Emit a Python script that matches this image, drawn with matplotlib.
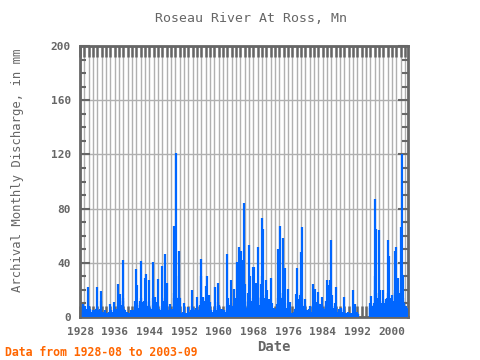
import numpy as np
import matplotlib
matplotlib.use("Agg")
import matplotlib.pyplot as plt
from matplotlib.ticker import MultipleLocator, FixedLocator

nan = np.nan
title = "Roseau River At Ross, Mn"
ylabel = "Archival Monthly Discharge, in mm"
xlabel = "Date"
footer = "Data from 1928-08 to 2003-09"
start_year, start_month = 1928, 8

# monthly discharge (mm), one row per year
q1928 = [5, 9.6, 4, 3, 2]  # Aug-Dec
q1929_1939 = [
    [2, 2, 3, 8, 6, 5, 4, 3, 3, 4, 6, 22],
    [8, 3, 4, 6, 5, 4, 3, 3, 2, 3, 4, 5],
    [3, 2, 2, 4, 5, 3, 2, 2, 3, 6, 22, 7],
    [3, 2, 3, 5, 4, 3, 4, 3, 6, 19, 12, 4],
    [2, 2, 3, 4, 3, 2, 2, 2, 2, 3, 5, 3],
    [2, 1, 2, 3, 3, 2, 2, 2, 3, 4, 9.6, 4],
    [2, 2, 3, 5, 4, 3, 3, 2, 3, 5, 11, 4],
    [3, 2, 3, 5, 6, 4, 3, 2, 4, 8, 24, 9],
    [4, 6, 17, 8, 6, 5, 4, 3, 5, 9, 14, 42],
    [12, 5, 4, 6, 5, 4, 3, 3, 2, 3, 4, 3],
    [3, 2, 2, 3, 2, 2, 2, 2, 2, 3, 5.5, 3],
]
q1940_1949 = [
    [2, 2, 3, 5, 4, 3, 3, 4, 6, 12, 35.5, 10],
    [6, 9, 23.6, 10, 7, 5, 6, 4, 5, 7, 9, 12],
    [41, 14, 8, 7, 11, 6, 5, 6, 7, 9, 12, 29],
    [10, 12, 32, 11, 7, 6, 5, 4, 6, 8, 12, 27.5],
    [9, 6, 5, 7, 6, 5, 4, 5, 6, 9, 14, 40.6],
    [12, 6, 5, 7, 8, 15, 7, 5, 6, 8, 11, 28],
    [9, 5, 4, 6, 5, 4, 3, 3, 4, 5, 7, 8],
    [37.6, 12, 6, 5, 6, 7, 9, 46.5, 14, 8, 7, 9],
    [25, 8, 5, 4, 5, 4, 3, 3, 4, 9.6, 6, 4],
    [3, 3, 4, 6, 5, 5, 6, 14, 67, 18, 8, 6],
]
q1950_1959 = [
    [20, 121, 30, 9, 7, 14, 8, 6, 7, 9, 15, 49],
    [14, 6, 4, 3, 3, 3, 2, 2, 4, 2, 3, 2],
    [10, 3, 2, 3, 3, 2, 2, 2, 2, 3, 3, 2],
    [7.3, 3, 2, 3, 4, 3, 3, 4, 5, 6, 8, 20],
    [7, 4, 3, 4, 5, 4, 3, 3, 4, 6, 7, 5],
    [15, 6, 4, 5, 5, 4, 4, 5, 6, 9, 12, 30.5],
    [42.5, 12, 7, 6, 8, 15, 7, 5, 6, 7, 9, 12],
    [23, 10, 14, 30, 9, 6, 5, 5, 7, 16, 8, 6],
    [5, 11, 5, 4, 4, 3, 3, 3, 3, 4, 5, 4],
    [4, 7, 22, 8, 5, 4, 4, 3, 5, 8, 11, 25],
]
q1960_1969 = [
    [9, 5, 4, 6, 5, 4, 4, 3, 4, 5, 6, 5],
    [4, 3, 5, 3, 3, 2, 2, 2, 3, 4, 5, 8],
    [46.5, 14, 6, 5, 8, 6, 5, 5, 9, 27.5, 10, 7],
    [5, 4, 4, 6, 8, 9, 21, 8, 6, 5, 6, 8],
    [9, 14, 40.6, 12, 8, 7, 8, 14, 51.7, 16, 8, 7],
    [12, 49, 16, 10, 14, 42, 12, 8, 9, 12, 20, 84],
    [24, 8, 11, 7, 6, 5, 6, 7, 9, 12, 18, 53],
    [16, 9, 12, 30, 10, 7, 6, 5, 7, 12, 37, 14],
    [8, 12, 37, 10, 7, 6, 8, 10, 25, 9, 7, 6],
    [14, 52, 15, 9, 7, 6, 5, 6, 8, 14, 24, 73],
]
q1970_1979 = [
    [30, 18, 16, 65, 14, 5, 7, 8, 9, 12, 27.5, 10],
    [8, 7, 9, 20, 9, 7, 6, 13, 6, 5, 6, 8],
    [28.5, 9, 6, 5, 10.6, 6, 5, 4, 5, 6, 7, 6],
    [4, 4, 5, 6, 9.6, 6, 5, 6, 14, 50, 16, 12],
    [20, 67, 18, 10, 8, 14, 7, 6, 9, 15, 58, 18],
    [12, 9, 14, 36, 10, 7, 6, 5, 5, 6, 7, 6],
    [21, 7, 5, 4, 11, 4, 3, 3, 3, 3, 3, 3],
    [2, 3, 2, 3, 4, 3, 3, 4, 6, 17, 7, 5],
    [5, 8, 36.5, 11, 7, 6, 13, 7, 8, 10, 16, 48],
    [15, 18, 66.5, 14, 8, 6, 6, 5, 6, 7, 9, 13.5],
]
q1980_1989 = [
    [6, 4, 4, 5, 5, 4, 4, 4, 5, 6, 5, 4],
    [3, 8, 3, 3, 3, 3, 3, 4, 5, 9, 24, 7],
    [6, 9, 21, 8, 6, 5, 7, 11, 7, 8, 10, 18.5],
    [8, 5, 5, 6, 9.6, 5, 4, 4, 5, 7, 9, 15],
    [7, 5, 4, 5, 6, 5, 4, 5, 7, 9, 12, 27.5],
    [10, 8, 12, 23.6, 9, 7, 8, 12, 27.5, 10, 8, 12],
    [57, 16, 8, 6, 7, 6, 5, 5, 6, 7, 8, 10],
    [22, 7, 5, 4, 4, 3, 3, 3, 3, 4, 6, 4],
    [3, 3, 7, 3, 3, 2, 2, 2, 3, 4, 6, 14.6],
    [5, 3, 2, 2, 3, 2, 2, 2, 2, 2, 3.6, 2],
]
q1990_1999 = [
    [2, 2, 2, 3, 3, 2, 2, 2, 2, 2, 3, 2],
    [3, 20, 6, 4, 4, 3, 9.6, 4, 3, 3, 4, 3],
    [3, 2, 2, nan, nan, nan, nan, nan, nan, nan, nan, nan],
    [nan] * 12,
    [nan, nan, nan, nan, nan, nan, nan, nan, nan, nan, 10, 8],
    [7, 9, 15.6, 8, 6, 5, 5, 6, 8, 10, 9, 7],
    [20, 87, 30, 18, 65, 14, 8, 7, 8, 10, 12, 14],
    [18, 64, 20, 10, 8, 6, 7, 6, 8, 10, 12, 9],
    [20, 10, 8, 6, 7, 9, 13.5, 8, 7, 8, 10, 14],
    [56.6, 18, 12, 10, 45, 14, 9, 8, 6, 8, 10, 12],
]
q2000_2003 = [
    [10, 16, 9, 7, 8, 9, 12, 18, 49, 20, 14, 52],
    [18, 12, 10, 14, 29, 12, 9, 8, 9, 11, 14, 18],
    [66.5, 20, 16, 120, 25, 14, 12, 31, 10, 8, 9, 8],
    [7, 6, 7, 8, 7, 6, 6, 5, 5],  # Jan-Sep
]

values = list(q1928)
for block in (q1929_1939, q1940_1949, q1950_1959, q1960_1969,
              q1970_1979, q1980_1989, q1990_1999, q2000_2003):
    for row in block:
        values.extend(row)
values = np.array(values, dtype=float)
t = start_year + (start_month - 1) / 12 + np.arange(len(values)) / 12.0

gray = "#666666"
blue = "#0066ff"
mono = "DejaVu Sans Mono"

fig = plt.figure(figsize=(4.8, 3.6), dpi=100)
ax = fig.add_axes([80 / 480, 1 - 317 / 360, 328 / 480, 271 / 360])

ok = ~np.isnan(values)
ax.vlines(t[ok], 0, values[ok], colors=blue, linewidth=1.6, zorder=3)

ax.set_xlim(1928.0, t[-1])
ax.set_ylim(0, 200)
ax.xaxis.set_major_locator(FixedLocator(list(range(1928, 2004, 8))))
ax.xaxis.set_minor_locator(MultipleLocator(1))
ax.yaxis.set_major_locator(MultipleLocator(40))
ax.yaxis.set_minor_locator(MultipleLocator(10))

ax.grid(True, which="minor", axis="x", color="#b0b0b0", lw=1, zorder=0)
ax.grid(True, which="major", axis="x", color="#b0b0b0", lw=1, zorder=0)
ax.grid(True, which="major", axis="y", color="#b0b0b0", lw=1, zorder=0)

ax.tick_params(which="both", direction="in", color=gray, top=True, right=True,
               labelcolor=gray, labelsize=8)
ax.tick_params(axis="y", which="major", length=7, width=1.5, pad=6.5)
ax.tick_params(axis="y", which="minor", length=4, width=1.5)
ax.tick_params(axis="x", which="minor", length=8, width=1.8)
ax.tick_params(axis="x", which="major", length=8, width=1.8, pad=7.5)
for lab in ax.get_xticklabels() + ax.get_yticklabels():
    lab.set_family(mono)
    lab.set_fontweight("bold")
for s in ax.spines.values():
    s.set_color(gray)
    s.set_linewidth(2)

fig.text(251 / 480, 1 - 19 / 360, title, ha="center", va="center",
         family=mono, fontsize=9.5, color=gray)
fig.text(18 / 480, 1 - 170 / 360, ylabel, ha="center", va="center",
         rotation=90, family=mono, fontsize=8.8, color=gray)
fig.text(274 / 480, 1 - 347 / 360, xlabel, ha="center", va="center",
         family=mono, fontsize=10, fontweight="bold", color=gray)
fig.text(5 / 480, 1 - 352 / 360, footer, ha="left", va="center",
         family=mono, fontsize=8.3, fontweight="bold", color="#ff6600")

fig.savefig("out.png", dpi=100)
